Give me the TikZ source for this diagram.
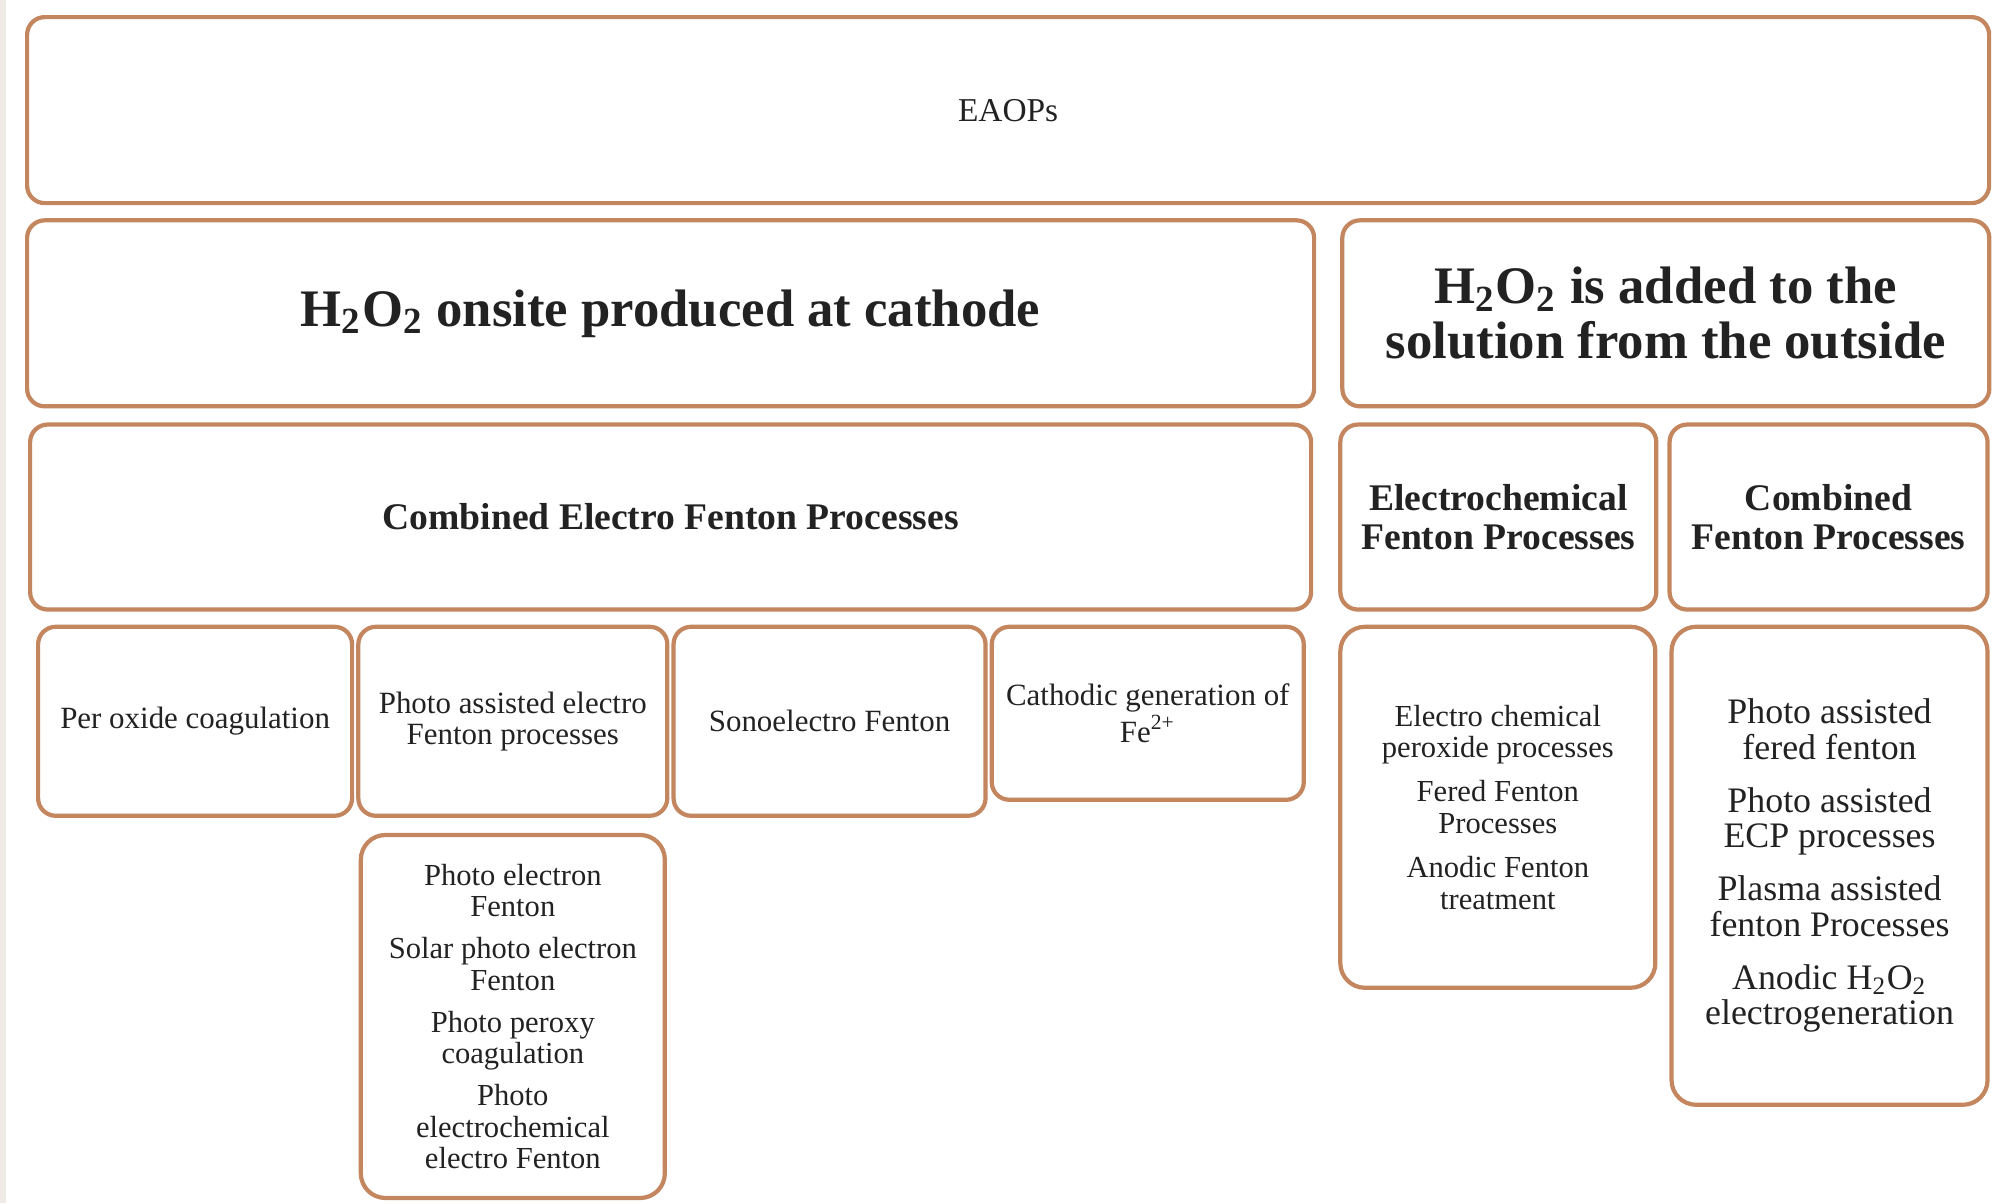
\documentclass[tikz,border=0pt]{standalone}
\usepackage{fontspec}
\setmainfont{Liberation Serif}
\usetikzlibrary{positioning}
\definecolor{boxline}{HTML}{C4865E}
\definecolor{stripgray}{HTML}{EEEBE4}
\definecolor{inktext}{HTML}{222222}

\begin{document}
\begin{tikzpicture}[
  procbox/.style={rectangle, rounded corners=5pt, draw=boxline, line width=1.2pt,
               fill=white, align=center, text=inktext, inner sep=2pt},
  topbox/.style={procbox, font=\fontsize{9.5}{11}\selectfont},
  headbox/.style={procbox, font=\fontsize{15}{15.6}\selectfont\bfseries},
  subhead/.style={procbox, font=\fontsize{10.7}{11.2}\selectfont\bfseries},
  leafbox/.style={procbox, font=\fontsize{8.8}{8.7}\selectfont},
  listbox/.style={procbox, rounded corners=7pt, font=\fontsize{8.7}{9}\selectfont},
  biglist/.style={procbox, rounded corners=7pt, font=\fontsize{10.2}{10.1}\selectfont}]

  \useasboundingbox (0,0) rectangle (19.97,-12.03);
  \fill[stripgray] (0,0) rectangle (0.06,-12.03);

  % Top levels
  \node[topbox, minimum width=19.62cm, minimum height=1.86cm, anchor=north west] (eaops) at (0.25,-0.15) {EAOPs};
  \node[headbox, minimum width=12.87cm, minimum height=1.86cm, below=0.13cm of eaops.south west, anchor=north west] (onsite)
    {H\textsubscript{2}O\textsubscript{2} onsite produced at cathode};
  \node[headbox, minimum width=6.47cm, minimum height=1.86cm, right=0.24cm of onsite] (outside)
    {H\textsubscript{2}O\textsubscript{2} is added to the\\solution from the outside};

  % Process families
  \node[subhead, minimum width=12.81cm, minimum height=1.85cm, below=0.14cm of onsite.south west, anchor=north west, xshift=0.03cm] (combel)
    {Combined Electro Fenton Processes};
  \node[subhead, minimum width=3.16cm, minimum height=1.85cm, right=0.25cm of combel] (echem)
    {Electrochemical\\Fenton Processes};
  \node[subhead, minimum width=3.18cm, minimum height=1.85cm, right=0.09cm of echem] (combfen)
    {Combined\\Fenton Processes};

  % Leaves under combined electro Fenton
  \node[leafbox, minimum width=3.14cm, minimum height=1.89cm, below=0.13cm of combel.south west, anchor=north west, xshift=0.08cm] (perox)
    {Per oxide coagulation};
  \node[leafbox, minimum width=3.09cm, minimum height=1.89cm, right=0.02cm of perox] (photoef)
    {Photo assisted electro\\Fenton processes};
  \node[leafbox, minimum width=3.12cm, minimum height=1.89cm, right=0.02cm of photoef] (sono)
    {Sonoelectro Fenton};
  \node[leafbox, minimum width=3.12cm, minimum height=1.73cm, right=0.02cm of sono.north east, anchor=north west] (cathfe)
    {Cathodic generation of\\Fe\textsuperscript{2+}};
  \node[listbox, minimum width=3.04cm, minimum height=3.63cm, below=0.15cm of photoef] (photolist)
    {Photo electron\\Fenton\\[2.9pt]Solar photo electron\\Fenton\\[2.9pt]Photo peroxy\\coagulation\\[2.9pt]Photo\\electrochemical\\electro Fenton};

  % Leaves under H2O2 from outside
  \node[listbox, minimum width=3.15cm, minimum height=3.61cm, below=0.13cm of echem.south west, anchor=north west] (eclist)
    {Electro chemical\\peroxide processes\\[3.6pt]Fered Fenton\\Processes\\[3.6pt]Anodic Fenton\\treatment};
  \node[biglist, minimum width=3.16cm, minimum height=4.78cm, below=0.13cm of combfen.south west, anchor=north west, xshift=0.02cm] (fenlist)
    {Photo assisted\\fered fenton\\[5pt]Photo assisted\\ECP processes\\[5pt]Plasma assisted\\fenton Processes\\[5pt]Anodic H\textsubscript{2}O\textsubscript{2}\\electrogeneration};

\end{tikzpicture}
\end{document}
